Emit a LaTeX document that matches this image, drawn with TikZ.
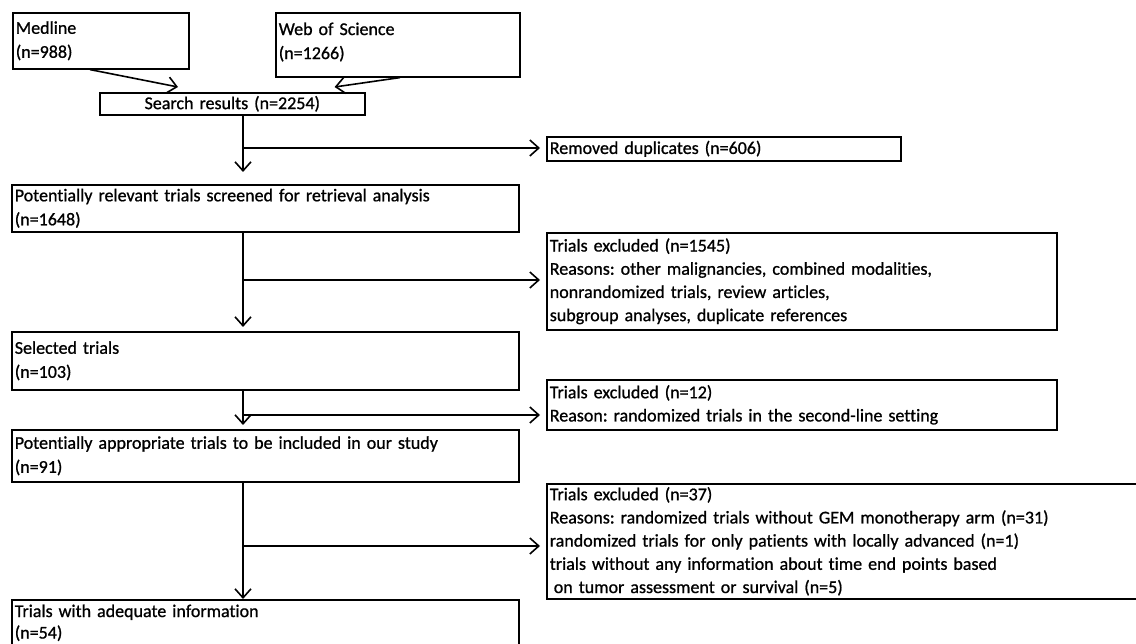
\documentclass[tikz,border=0pt]{standalone}
\usepackage{fontspec}
\setmainfont{Carlito}[FakeBold=0.9,Ligatures=NoCommon]
\usetikzlibrary{arrows.meta,calc}
\frenchspacing
\tikzset{
  box/.style={draw, line width=1.6pt, anchor=north west, inner xsep=3pt, inner ysep=0pt, align=left,
    font=\fontsize{18}{24}\selectfont},
  rbox/.style={box, font=\fontsize{18}{23.2}\selectfont},
  arr/.style={line width=1.6pt, -{Straight Barb[length=9pt,width=16pt,line width=1.6pt]}},
  ln/.style={line width=1.6pt}
}
\newcommand{\bx}[6]{\node[#1, minimum width=#4pt, minimum height=#5pt, text width=#4pt-6pt] (#6) at (#2,#3)}
\begin{document}
\begin{tikzpicture}[x=1pt,y=-1pt]
\useasboundingbox (0,0) rectangle (1136,644);
\clip (0,0) rectangle (1136,644);
\bx{box}{12}{12}{176}{56}{med} {Medline\\(n=988)};
\bx{box}{275}{12}{244}{64}{wos} {Web of Science\\(n=1266)\rule[-8pt]{0pt}{8pt}};
\node[box, align=center, minimum width=265pt, minimum height=22pt, text width=259pt] (sr) at (99,92) {Search results (n=2254)};
\bx{box}{546}{136}{354}{24}{dup} {Removed duplicates (n=606)};
\bx{box}{11}{184}{507}{47}{prel} {Potentially relevant trials screened for retrieval analysis\\(n=1648)};
\bx{rbox}{546}{232}{510}{97}{ex1} {Trials excluded (n=1545)\\Reasons: other malignancies, combined modalities,\\nonrandomized trials, review articles,\\subgroup analyses, duplicate references};
\bx{box}{11}{331}{507}{58}{sel} {Selected trials\\(n=103)};
\bx{rbox}{546}{379}{510}{50}{ex2} {Trials excluded (n=12)\\Reason: randomized trials in the second-line setting};
\bx{box}{11}{429}{507}{52}{papp} {Potentially appropriate trials to be included in our study\\(n=91)};
\bx{rbox}{546}{483}{620}{115}{ex3} {Trials excluded (n=37)\\Reasons: randomized trials without GEM monotherapy arm (n=31)\\randomized trials for only patients with locally advanced (n=1)\\trials without any information about time end points based\\\hspace*{4pt}on tumor assessment or survival (n=5)};
\node[box, minimum width=507pt, minimum height=46pt, text width=501pt, font=\fontsize{18}{21.5}\selectfont] (adeq) at (11,599) {Trials with adequate information\\(n=54)};
% top arrows
\draw[arr] ([xshift=78pt]med.south west) -- ([xshift=79pt,yshift=5pt]sr.north west);
\draw[arr] ([xshift=125pt]wos.south west) -- ([xshift=-31pt,yshift=5pt]sr.north east);
% junctions
\coordinate (j1) at (243,148);
\coordinate (j2) at (243,280);
\coordinate (j3) at (243,415);
\coordinate (j4) at (243,546);
\draw[ln] (sr.south -| j1) -- (j1);
\draw[arr] (j1) -- ([yshift=12pt]prel.north -| j1);
\draw[arr] (j1) -- ([xshift=-6pt]dup.west |- j1);
\draw[ln] (prel.south -| j2) -- (j2);
\draw[arr] (j2) -- ([yshift=4pt]sel.north -| j2);
\draw[arr] (j2) -- ([xshift=-6pt]ex1.west |- j2);
\draw[ln] (sel.south -| j3) -- (j3);
\draw[arr] (j3) -- ([yshift=4pt]papp.north -| j3);
\draw[arr] (j3) -- ([xshift=-6pt]ex2.west |- j3);
\draw[ln] (papp.south -| j4) -- (j4);
\draw[arr] (j4) -- (adeq.north -| j4);
\draw[arr] (j4) -- ([xshift=-6pt]ex3.west |- j4);
\end{tikzpicture}
\end{document}
